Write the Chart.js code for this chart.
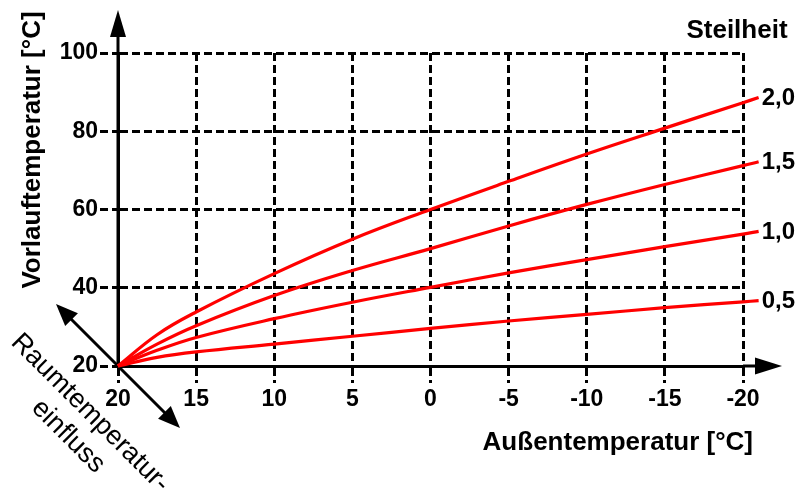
<!DOCTYPE html>
<html>
<head>
<meta charset="utf-8">
<script src="https://cdn.jsdelivr.net/npm/chart.js@4"></script>
<style>
  html, body { margin: 0; padding: 0; background: #fff; }
  canvas { display: block; }
</style>
</head>
<body>
<canvas id="chart" width="800" height="488"></canvas>
<script>
// Heizkennlinien: Vorlauf vs. Außentemperatur
const outsideTemp = [20, 17.5, 15, 10, 5, 0, -5, -10, -15, -20, -21];
const steilheit20 = [20, 28.0, 33.8, 43.6, 52.4, 60.0, 67.2, 74.2, 80.8, 87.3, 88.6];
const steilheit15 = [20, 25.6, 30.3, 38.0, 44.4, 50.0, 55.8, 61.3, 66.4, 71.2, 72.2];
const steilheit10 = [20, 24.0, 27.3, 32.1, 36.3, 40.1, 43.8, 47.2, 50.5, 53.7, 54.4];
const steilheit05 = [20, 22.2, 23.6, 25.6, 27.6, 29.6, 31.5, 33.2, 34.9, 36.4, 36.7];
const curveLabels = ["2,0", "1,5", "1,0", "0,5"];

const fontName = "'Liberation Sans', Arial, sans-serif";

function toPoints(values) {
  return outsideTemp.map((x, i) => ({ x: x, y: values[i] }));
}

function arrowHead(ctx, tipX, tipY, angle, len, half) {
  ctx.save();
  ctx.translate(tipX, tipY);
  ctx.rotate(angle);
  ctx.beginPath();
  ctx.moveTo(0, 0);
  ctx.lineTo(-len, -half);
  ctx.lineTo(-len, half);
  ctx.closePath();
  ctx.fill();
  ctx.restore();
}

const decor = {
  id: "decor",
  beforeDatasetsDraw(chart) {
    const ctx = chart.ctx;
    const area = chart.chartArea;
    const ox = chart.scales.x.getPixelForValue(20);
    const oy = chart.scales.y.getPixelForValue(20);
    ctx.save();
    ctx.fillStyle = "#000";
    ctx.strokeStyle = "#000";
    ctx.lineWidth = 3;

    // y axis arrow
    const yTip = area.top - 43;
    ctx.beginPath();
    ctx.moveTo(ox, oy);
    ctx.lineTo(ox, yTip + 20);
    ctx.stroke();
    arrowHead(ctx, ox, yTip, -Math.PI / 2, 27, 8);

    // x axis arrow
    const xTip = area.right + 39;
    ctx.beginPath();
    ctx.moveTo(area.right, oy);
    ctx.lineTo(xTip - 20, oy);
    ctx.stroke();
    arrowHead(ctx, xTip, oy, 0, 27, 8.5);

    // Raumtemperatur-Einfluss diagonal arrow
    const d = 62;
    ctx.beginPath();
    ctx.moveTo(ox - d + 12, oy - d + 12);
    ctx.lineTo(ox + d - 12, oy + d - 12);
    ctx.stroke();
    arrowHead(ctx, ox - d, oy - d, -3 * Math.PI / 4, 22, 9);
    arrowHead(ctx, ox + d, oy + d, Math.PI / 4, 22, 9);
    ctx.restore();
  },
  afterDraw(chart) {
    const ctx = chart.ctx;
    const area = chart.chartArea;
    const ox = chart.scales.x.getPixelForValue(20);
    const oy = chart.scales.y.getPixelForValue(20);
    ctx.save();
    ctx.fillStyle = "#000";

    // curve labels at the line ends
    ctx.font = "bold 24px " + fontName;
    ctx.textAlign = "left";
    ctx.textBaseline = "middle";
    chart.data.datasets.forEach((ds, i) => {
      const meta = chart.getDatasetMeta(i);
      const last = meta.data[meta.data.length - 1];
      ctx.fillText(curveLabels[i], last.x + 3, last.y + 1);
    });

    // Steilheit
    ctx.font = "bold 26px " + fontName;
    ctx.textAlign = "center";
    ctx.textBaseline = "alphabetic";
    ctx.fillText("Steilheit", area.right - 6, area.top - 15);

    // x title
    ctx.textAlign = "right";
    ctx.fillText("Außentemperatur [°C]", area.right + 10, area.bottom + 84);

    // y title
    ctx.save();
    ctx.translate(33, area.top + 97);
    ctx.rotate(-Math.PI / 2);
    ctx.textAlign = "center";
    ctx.textBaseline = "middle";
    ctx.fillText("Vorlauftemperatur [°C]", 0, 0);
    ctx.restore();

    // Raumtemperatur-Einfluss
    ctx.save();
    ctx.translate(ox - 28, oy + 47);
    ctx.rotate(Math.PI / 4);
    ctx.font = "27px " + fontName;
    ctx.textAlign = "center";
    ctx.textBaseline = "middle";
    ctx.fillText("Raumtemperatur-", 0, 0);
    ctx.fillText("einfluss", 1, 32);
    ctx.restore();

    ctx.restore();
  }
};

function lineSet(values) {
  return {
    data: toPoints(values),
    borderColor: "#ff0000",
    borderWidth: 3.2,
    pointRadius: 0,
    fill: false,
    tension: 0.4,
    clip: false
  };
}

const ctx = document.getElementById("chart").getContext("2d");
const myChart = new Chart(ctx, {
  type: "line",
  data: {
    datasets: [
      lineSet(steilheit20),
      lineSet(steilheit15),
      lineSet(steilheit10),
      lineSet(steilheit05)
    ]
  },
  options: {
    responsive: false,
    animation: false,
    devicePixelRatio: 1,
    layout: { padding: { top: 53, right: 57, left: 0, bottom: 0 } },
    plugins: { legend: { display: false }, tooltip: { enabled: false } },
    scales: {
      x: {
        type: "linear",
        reverse: true,
        min: -20,
        max: 20,
        afterFit: function (scale) { scale.height = 122; },
        ticks: {
          stepSize: 5,
          autoSkip: false,
          maxRotation: 0,
          color: "#000",
          padding: 3,
          font: { family: fontName, size: 23, weight: "bold" }
        },
        grid: {
          color: "#000",
          lineWidth: 3,
          tickLength: 17,
          tickWidth: 3,
          tickColor: "#000",
          tickBorderDash: [8, 4]
        },
        border: { display: true, color: "#000", width: 3, dash: [8, 4] }
      },
      y: {
        min: 20,
        max: 100,
        afterFit: function (scale) { scale.width = 118; },
        ticks: {
          stepSize: 20,
          color: "#000",
          padding: 2,
          font: { family: fontName, size: 23, weight: "bold" }
        },
        grid: {
          color: "#000",
          lineWidth: 3,
          tickLength: 18,
          tickWidth: 3,
          tickColor: "#000",
          tickBorderDash: [8, 4]
        },
        border: { display: true, color: "#000", width: 3, dash: [8, 4] }
      }
    }
  },
  plugins: [decor]
});
</script>
</body>
</html>
